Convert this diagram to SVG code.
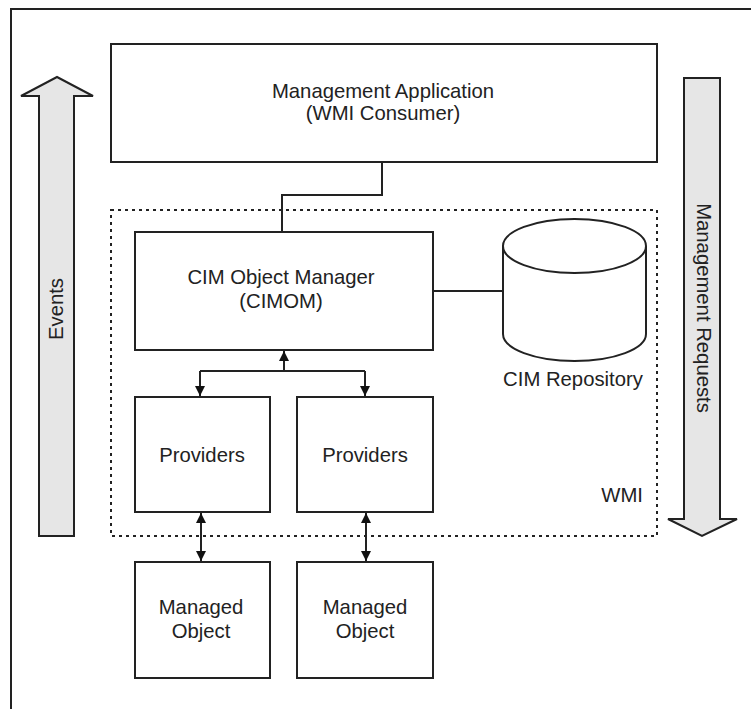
<svg xmlns="http://www.w3.org/2000/svg" width="751" height="709" viewBox="0 0 751 709">
<defs>
<style>
.box{fill:#fff;stroke:#222;stroke-width:2}
.arrow{fill:#e6e6e6;stroke:#222;stroke-width:2;stroke-linejoin:miter}
.line{fill:none;stroke:#222;stroke-width:2}
.t{font-family:"Liberation Sans",Arial,sans-serif;font-size:20.3px;fill:#222;text-anchor:middle}
</style>
<marker id="ah" viewBox="0 0 10 10" refX="10" refY="5" markerWidth="10" markerHeight="10" markerUnits="userSpaceOnUse" orient="auto">
<path d="M0,0 L10,5 L0,10 z" fill="#111"/>
</marker>
</defs>
<rect width="751" height="709" fill="#fff"/>
<path class="line" d="M11,709 V9 H751"/>

<g id="events">
<polygon class="arrow" points="39,536 39,96 21,96 57,77 93,96 74,96 74,536"/>
<text class="t" transform="translate(63,309) rotate(-90)">Events</text>
</g>

<g id="management-requests">
<polygon class="arrow" points="684,78 720,78 720,519 737,519 702,536 668,519 684,519"/>
<text class="t" transform="translate(697,308) rotate(90)">Management Requests</text>
</g>

<g id="wmi">
<rect x="111" y="210" width="546" height="326" fill="none" stroke="#222" stroke-width="2" stroke-dasharray="3 4"/>
<text class="t" x="643" y="502" style="text-anchor:end">WMI</text>
</g>

<g id="management-application">
<rect class="box" x="111" y="44" width="546" height="118"/>
<text class="t" x="383" y="98">Management Application</text>
<text class="t" x="383" y="120">(WMI Consumer)</text>
</g>

<g id="cimom">
<rect class="box" x="135" y="232" width="298" height="118"/>
<text class="t" x="281" y="284">CIM Object Manager</text>
<text class="t" x="281" y="308">(CIMOM)</text>
</g>

<g id="cim-repository">
<path class="box" d="M503,246 V334 A71.5,27 0 0 0 646,334 V246"/>
<ellipse class="box" cx="574.5" cy="246" rx="71.5" ry="27"/>
<text class="t" x="573" y="386">CIM Repository</text>
</g>

<g id="providers-1">
<rect class="box" x="135" y="397" width="135" height="115"/>
<text class="t" x="202" y="462">Providers</text>
</g>
<g id="providers-2">
<rect class="box" x="297" y="397" width="136" height="115"/>
<text class="t" x="365" y="462">Providers</text>
</g>

<g id="managed-object-1">
<rect class="box" x="135" y="562" width="135" height="116"/>
<text class="t" x="201" y="614">Managed</text>
<text class="t" x="201" y="638">Object</text>
</g>
<g id="managed-object-2">
<rect class="box" x="297" y="562" width="136" height="116"/>
<text class="t" x="365" y="614">Managed</text>
<text class="t" x="365" y="638">Object</text>
</g>

<g id="connectors">
<path class="line" d="M382,162 V195 H282 V232"/>
<path class="line" d="M433,291 H503"/>
<path class="line" d="M284,371 V351" marker-end="url(#ah)"/>
<path class="line" d="M200,371 H365"/>
<path class="line" d="M200,371 V396" marker-end="url(#ah)"/>
<path class="line" d="M365,371 V396" marker-end="url(#ah)"/>
<path class="line" d="M201,537 V513" marker-end="url(#ah)"/>
<path class="line" d="M201,537 V561" marker-end="url(#ah)"/>
<path class="line" d="M366,537 V513" marker-end="url(#ah)"/>
<path class="line" d="M366,537 V561" marker-end="url(#ah)"/>
</g>
</svg>
